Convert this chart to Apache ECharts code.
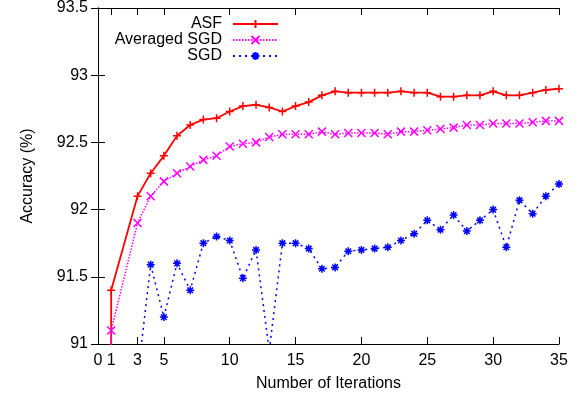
<!DOCTYPE html>
<html>
<head>
<meta charset="utf-8">
<script src="https://cdn.jsdelivr.net/npm/echarts@6/dist/echarts.min.js"></script>
<style>
    html, body { margin: 0; padding: 0; background: #fff; }
    #main { width: 578px; height: 400px; }
</style>
</head>
<body>
<div id="main"></div>
<script>
    // iteration numbers (first one repeated: curves come up from below the plot at x = 1)
    const iterations = [1, 1, 3, 4, 5, 6, 7, 8, 9, 10, 11, 12, 13, 14, 15, 16, 17, 18, 19,
        20, 21, 22, 23, 24, 25, 26, 27, 28, 29, 30, 31, 32, 33, 34, 35];

    const asf = [90.0, 91.40, 92.10, 92.27, 92.40, 92.55, 92.63, 92.67, 92.68, 92.73, 92.77,
        92.78, 92.76, 92.73, 92.77, 92.80, 92.85, 92.88, 92.87, 92.87, 92.87, 92.87, 92.88,
        92.87, 92.87, 92.84, 92.84, 92.85, 92.85, 92.88, 92.85, 92.85, 92.87, 92.89, 92.90];

    const averagedSgd = [90.0, 91.10, 91.90, 92.10, 92.21, 92.27, 92.32, 92.37, 92.40, 92.47,
        92.49, 92.50, 92.54, 92.56, 92.56, 92.56, 92.58, 92.56, 92.57, 92.57, 92.57, 92.56,
        92.58, 92.58, 92.59, 92.60, 92.61, 92.63, 92.63, 92.64, 92.64, 92.64, 92.65, 92.66, 92.66];

    const sgd = [90.3, 90.3, 90.75, 91.59, 91.20, 91.60, 91.40, 91.75, 91.80, 91.77, 91.49,
        91.70, 90.95, 91.75, 91.75, 91.71, 91.56, 91.57, 91.69, 91.70, 91.71, 91.72, 91.77,
        91.82, 91.92, 91.85, 91.96, 91.84, 91.92, 92.00, 91.72, 92.07, 91.97, 92.10, 92.19];

    const xTicks = [0, 1, 3, 5, 10, 15, 20, 25, 30, 35];

    const seriesNames = ['ASF', 'Averaged SGD', 'SGD'];

    const font = 'Liberation Sans';

    function pairs(values) {
        return values.map(function (v, i) { return [iterations[i], v]; });
    }

    let myChart = echarts.init(document.getElementById('main'));

    // one legend per row so that the text is right aligned like gnuplot's key
    let legends = seriesNames.map(function (name, i) {
        return {
            data: [name],
            right: 299,
            top: 16 + i * 16,
            padding: 0,
            align: 'right',
            itemWidth: 45,
            itemHeight: 10,
            selectedMode: false,
            textStyle: {
                fontFamily: font,
                fontSize: 16,
                color: '#000',
                padding: [0, 6, 0, 0]
            }
        };
    });

    const axisLine = { show: true, lineStyle: { color: '#000', width: 1 } };
    const inTick = { show: true, inside: true, length: 7, lineStyle: { color: '#000', width: 1 } };

    myChart.setOption({
        animation: false,
        backgroundColor: '#fff',
        legend: legends,
        grid: {
            left: 98,
            right: 19,
            top: 5,
            bottom: 56
        },
        xAxis: [
            {
                type: 'value',
                min: 0,
                max: 35,
                name: 'Number of Iterations',
                nameLocation: 'middle',
                nameGap: 32,
                nameTextStyle: { fontFamily: font, fontSize: 16, color: '#000' },
                axisLine: axisLine,
                axisTick: Object.assign({ customValues: xTicks }, inTick),
                axisLabel: {
                    customValues: xTicks,
                    margin: 9,
                    fontFamily: font,
                    fontSize: 16,
                    color: '#000'
                },
                splitLine: { show: false }
            },
            {
                // mirrored ticks on the top border
                type: 'value',
                position: 'top',
                min: 0,
                max: 35,
                axisLine: axisLine,
                axisTick: Object.assign({ customValues: xTicks }, inTick),
                axisLabel: { show: false },
                splitLine: { show: false }
            }
        ],
        yAxis: [
            {
                type: 'value',
                min: 91,
                max: 93.5,
                interval: 0.5,
                name: 'Accuracy (%)',
                nameLocation: 'middle',
                nameGap: 62,
                nameTextStyle: { fontFamily: font, fontSize: 16, color: '#000' },
                axisLine: axisLine,
                axisTick: inTick,
                axisLabel: {
                    margin: 10,
                    fontFamily: font,
                    fontSize: 16,
                    color: '#000'
                },
                splitLine: { show: false }
            },
            {
                type: 'value',
                position: 'right',
                min: 91,
                max: 93.5,
                interval: 0.5,
                axisLine: axisLine,
                axisTick: inTick,
                axisLabel: { show: false },
                splitLine: { show: false }
            }
        ],
        series: [
            {
                name: 'ASF',
                type: 'line',
                data: pairs(asf),
                clip: true,
                symbol: 'path://M0,5L10,5M5,0L5,10',
                symbolSize: 8,
                lineStyle: { color: '#ff0000', width: 1.8, type: 'solid' },
                itemStyle: { color: '#ff0000', borderColor: '#ff0000', borderWidth: 1.5 }
            },
            {
                name: 'Averaged SGD',
                type: 'line',
                data: pairs(averagedSgd),
                clip: true,
                symbol: 'path://M0,0L10,10M10,0L0,10',
                symbolSize: 8,
                lineStyle: { color: '#ff00ff', width: 1.5, type: [1.5, 1.5] },
                itemStyle: { color: '#ff00ff', borderColor: '#ff00ff', borderWidth: 1.5 }
            },
            {
                name: 'SGD',
                type: 'line',
                data: pairs(sgd),
                clip: true,
                symbol: 'path://M0,5L10,5M5,0L5,10M1.5,1.5L8.5,8.5M8.5,1.5L1.5,8.5',
                symbolSize: 8,
                lineStyle: { color: '#0000ff', width: 1.5, type: [2, 4] },
                itemStyle: { color: '#0000ff', borderColor: '#0000ff', borderWidth: 1.5 }
            }
        ]
    });
</script>
</body>
</html>
